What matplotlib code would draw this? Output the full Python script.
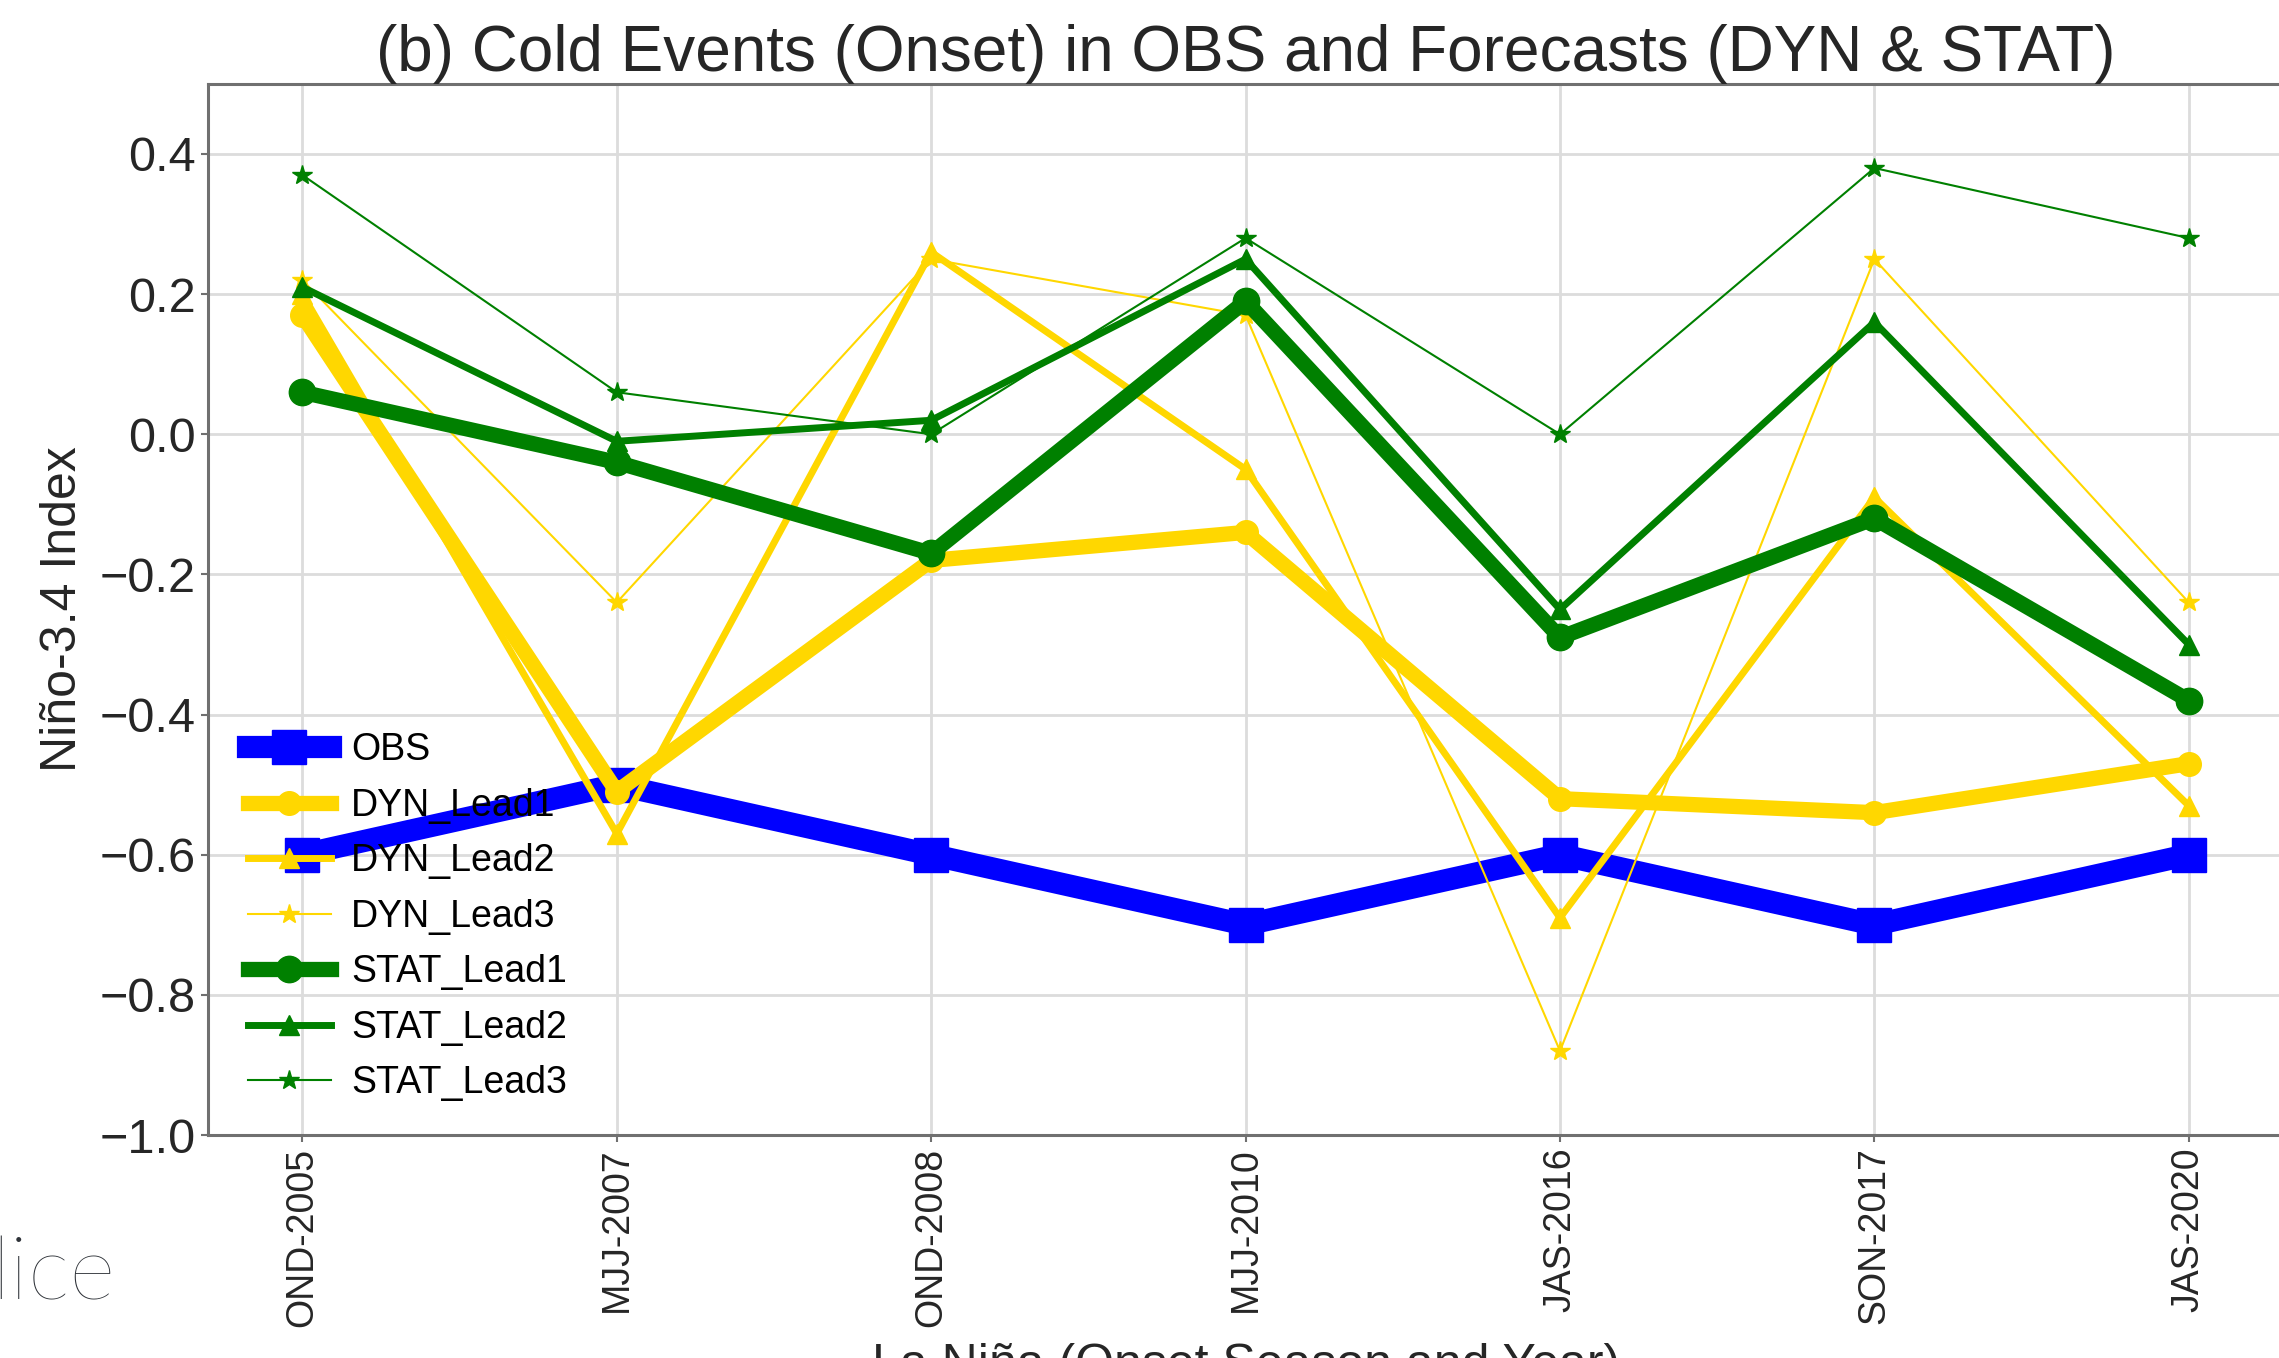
import matplotlib
matplotlib.use('Agg')
import matplotlib.pyplot as plt

# данные
seasons = ['OND-2005', 'MJJ-2007', 'OND-2008', 'MJJ-2010', 'JAS-2016', 'SON-2017', 'JAS-2020']
obs = [-0.60, -0.50, -0.60, -0.70, -0.60, -0.70, -0.60]
dyn_lead1 = [0.17, -0.51, -0.18, -0.14, -0.52, -0.54, -0.47]
dyn_lead2 = [0.20, -0.57, 0.26, -0.05, -0.69, -0.09, -0.53]
dyn_lead3 = [0.22, -0.24, 0.25, 0.17, -0.88, 0.25, -0.24]
stat_lead1 = [0.06, -0.04, -0.17, 0.19, -0.29, -0.12, -0.38]
stat_lead2 = [0.21, -0.01, 0.02, 0.25, -0.25, 0.16, -0.30]
stat_lead3 = [0.37, 0.06, 0.00, 0.28, 0.00, 0.38, 0.28]

plt.rcParams['font.family'] = ['Liberation Sans', 'DejaVu Sans']
txt = '#262626'
edge = '#707070'

fig = plt.figure(figsize=(22.79, 13.58), dpi=100)
ax = fig.add_axes([0.0913, 0.1642, 0.9105, 0.7740])

x = range(len(seasons))
ax.plot(x, obs, color='blue', marker='s', lw=16, ms=25, label='OBS')
ax.plot(x, dyn_lead1, color='gold', marker='o', lw=11, ms=17, label='DYN_Lead1')
ax.plot(x, dyn_lead2, color='gold', marker='^', lw=5, ms=15, label='DYN_Lead2')
ax.plot(x, dyn_lead3, color='gold', marker='*', lw=1.5, ms=15, label='DYN_Lead3')
ax.plot(x, stat_lead1, color='green', marker='o', lw=11, ms=19, label='STAT_Lead1')
ax.plot(x, stat_lead2, color='green', marker='^', lw=5, ms=15, label='STAT_Lead2')
ax.plot(x, stat_lead3, color='green', marker='*', lw=1.5, ms=15, label='STAT_Lead3')

ax.set_xlim(-0.3, 6.3)
ax.set_ylim(-1.0, 0.5)
ax.set_yticks([-1.0, -0.8, -0.6, -0.4, -0.2, 0.0, 0.2, 0.4])
ax.set_xticks(list(x))
ax.set_xticklabels(seasons, rotation=90)

ax.grid(True, color='#dcdcdc', lw=2)
ax.set_axisbelow(True)
for s in ax.spines.values():
    s.set_color(edge)
    s.set_linewidth(2.2)

ax.tick_params(axis='y', labelsize=35, colors=edge, labelcolor=txt, length=5, width=1.5, pad=4)
ax.tick_params(axis='x', labelsize=27, colors=edge, labelcolor=txt, length=5, width=1.5, pad=4)

ax.set_title('(b) Cold Events (Onset) in OBS and Forecasts (DYN & STAT)', fontsize=46, color=txt, pad=8.6)
ax.set_ylabel('Niño-3.4 Index', fontsize=36, color=txt, labelpad=10)
ax.set_xlabel('La Niña (Onset Season and Year)', fontsize=36, color=txt, labelpad=12)

ax.legend(loc='lower left', bbox_to_anchor=(0.003, 0.0), frameon=False, fontsize=27,
          handlelength=2.2, labelspacing=0.52, handletextpad=0.55, borderaxespad=0.5)

# кусок соседнего текста со страницы
fig.text(-0.004, 0.043, 'lice', fontsize=64, color='#2e3238', family=['Lato', 'DejaVu Sans'], fontweight='light')

fig.savefig('out.png', dpi=100)
